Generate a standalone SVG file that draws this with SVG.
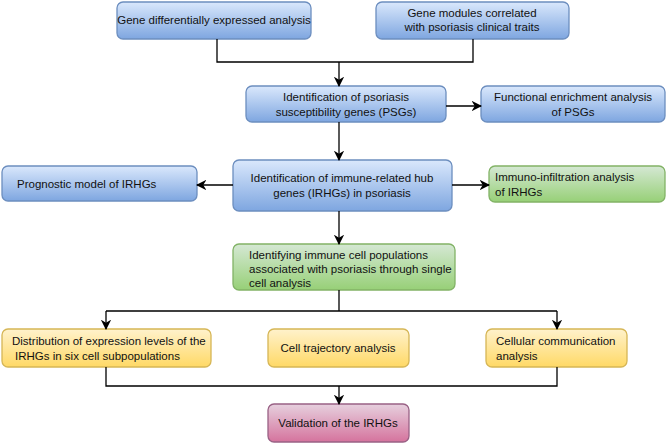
<svg xmlns="http://www.w3.org/2000/svg" width="669" height="444" viewBox="0 0 669 444">
<defs>
<linearGradient id="gb" x1="0" y1="0" x2="0" y2="1"><stop offset="0" stop-color="#dae8fc"/><stop offset="1" stop-color="#7ea6e0"/></linearGradient>
<linearGradient id="gg" x1="0" y1="0" x2="0" y2="1"><stop offset="0" stop-color="#d5e8d4"/><stop offset="1" stop-color="#97d077"/></linearGradient>
<linearGradient id="gy" x1="0" y1="0" x2="0" y2="1"><stop offset="0" stop-color="#fff2cc"/><stop offset="1" stop-color="#ffd966"/></linearGradient>
<linearGradient id="gp" x1="0" y1="0" x2="0" y2="1"><stop offset="0" stop-color="#e6d0de"/><stop offset="1" stop-color="#d5739d"/></linearGradient>
<marker id="a" viewBox="0 0 10 10" refX="9" refY="5" markerWidth="8" markerHeight="8" orient="auto"><path d="M0,0 L10,5 L0,10 L3,5 z" fill="#000"/></marker>
</defs>
<style>
.b{fill:url(#gb);stroke:#6c8ebf;stroke-width:1.3}
.g{fill:url(#gg);stroke:#82b366;stroke-width:1.3}
.y{fill:url(#gy);stroke:#d6b656;stroke-width:1.3}
.p{fill:url(#gp);stroke:#996185;stroke-width:1.3}
text{font-family:"Liberation Sans",Arial,sans-serif;font-size:11.5px;fill:#111}
.c{stroke:#000;stroke-width:1.3;fill:none}
</style>
<g id="n1"><rect class="b" x="117" y="2" width="194" height="37" rx="6"/><text x="214" y="24" text-anchor="middle">Gene differentially expressed analysis</text></g>
<g id="n2"><rect class="b" x="376" y="2" width="193" height="37" rx="6"/><text x="472" y="17" text-anchor="middle">Gene modules correlated</text><text x="472" y="31" text-anchor="middle">with psoriasis clinical traits</text></g>
<g id="n3"><rect class="b" x="246" y="86" width="200" height="36" rx="6"/><text x="346" y="101" text-anchor="middle">Identification of psoriasis</text><text x="346" y="116" text-anchor="middle">susceptibility genes (PSGs)</text></g>
<g id="n4"><rect class="b" x="481" y="86" width="184" height="36" rx="6"/><text x="573" y="101" text-anchor="middle">Functional enrichment analysis</text><text x="573" y="116" text-anchor="middle">of PSGs</text></g>
<g id="n5"><rect class="b" x="233" y="160" width="219" height="51" rx="6"/><text x="342" y="182" text-anchor="middle">Identification of immune-related hub</text><text x="342" y="197" text-anchor="middle">genes (IRHGs) in psoriasis</text></g>
<g id="n6"><rect class="b" x="2" y="166" width="195" height="35" rx="6"/><text x="17" y="188">Prognostic model of IRHGs</text></g>
<g id="n7"><rect class="g" x="489" y="166" width="176" height="36" rx="6"/><text x="495" y="181">Immuno-infiltration analysis</text><text x="495" y="196">of IRHGs</text></g>
<g id="n8"><rect class="g" x="233" y="244" width="222" height="46" rx="6"/><text x="249" y="259">Identifying immune cell populations</text><text x="249" y="273">associated with psoriasis through single</text><text x="249" y="287">cell analysis</text></g>
<g id="n9"><rect class="y" x="2" y="329" width="209" height="38" rx="6"/><text x="12" y="345">Distribution of expression levels of the</text><text x="15" y="360">IRHGs in six cell subpopulations</text></g>
<g id="n10"><rect class="y" x="268" y="329" width="141" height="38" rx="6"/><text x="338" y="352" text-anchor="middle">Cell trajectory analysis</text></g>
<g id="n11"><rect class="y" x="486" y="329" width="141" height="38" rx="6"/><text x="496" y="345">Cellular communication</text><text x="496" y="360">analysis</text></g>
<g id="n12"><rect class="p" x="268" y="404" width="141" height="38" rx="6"/><text x="338" y="427" text-anchor="middle">Validation of the IRHGs</text></g>
<g id="connectors">
<path class="c" d="M217,39 V62 H473 V39"/>
<path class="c" d="M339,62 V86" marker-end="url(#a)"/>
<path class="c" d="M446,106 H481" marker-end="url(#a)"/>
<path class="c" d="M339,122 V160" marker-end="url(#a)"/>
<path class="c" d="M233,185 H197" marker-end="url(#a)"/>
<path class="c" d="M452,185 H489" marker-end="url(#a)"/>
<path class="c" d="M339,211 V244" marker-end="url(#a)"/>
<path class="c" d="M339,290 V311 M106,311 H557"/>
<path class="c" d="M106,311 V329" marker-end="url(#a)"/>
<path class="c" d="M557,311 V329" marker-end="url(#a)"/>
<path class="c" d="M106,367 V386 H557 V367"/>
<path class="c" d="M339,386 V404" marker-end="url(#a)"/>
</g>
</svg>
